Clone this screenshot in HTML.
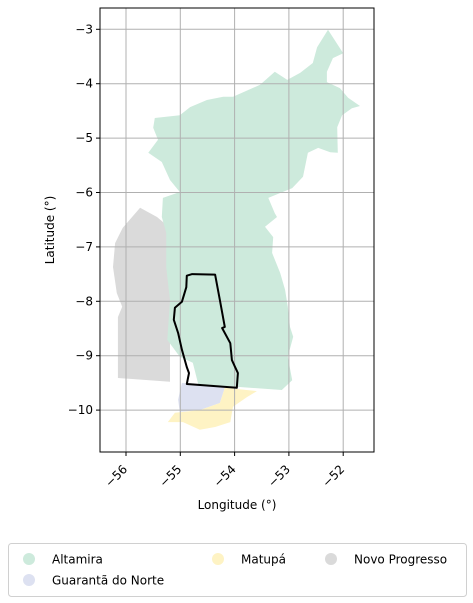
<!DOCTYPE html>
<html><head><meta charset="utf-8"><style>
body{margin:0;background:#fff;font-family:"Liberation Sans","DejaVu Sans",sans-serif;}
svg{display:block}
text{font-family:"DejaVu Sans","Liberation Sans",sans-serif;font-size:12px;fill:#000}
</style></head><body>
<svg id="chart" width="473" height="603"></svg>
<script>
const xTicks=[-56,-55,-54,-53,-52];
const yTicks=[-3,-4,-5,-6,-7,-8,-9,-10];
const altamiraLon=[-52.28,-52.00,-52.19,-52.30,-52.30,-52.06,-51.91,-51.69,-51.84,-52.02,-52.11,-52.10,-52.24,-52.46,-52.65,-52.74,-52.94,-53.16,-53.38,-53.26,-53.22,-53.44,-53.29,-53.31,-53.16,-53.07,-53.02,-52.98,-52.92,-53.02,-52.94,-53.13,-54.67,-54.77,-55.01,-55.24,-55.19,-55.26,-55.26,-55.34,-55.32,-55.01,-55.19,-55.34,-55.59,-55.41,-55.50,-55.47,-55.01,-54.82,-54.51,-54.21,-54.03,-53.53,-53.26,-53.03,-52.79,-52.56,-52.48];
const altamiraLat=[-3.01,-3.44,-3.53,-3.78,-3.97,-4.08,-4.26,-4.41,-4.45,-4.58,-4.80,-5.27,-5.26,-5.18,-5.27,-5.71,-5.92,-6.01,-6.10,-6.38,-6.45,-6.63,-6.82,-7.11,-7.48,-7.79,-8.10,-8.47,-8.65,-9.02,-9.45,-9.63,-9.52,-9.13,-9.02,-8.71,-7.98,-7.37,-6.74,-6.45,-6.10,-5.99,-5.77,-5.44,-5.27,-5.03,-4.81,-4.63,-4.58,-4.43,-4.30,-4.24,-4.24,-4.02,-3.78,-3.93,-3.80,-3.62,-3.33];
const novoLon=[-55.74,-55.43,-55.19,-55.19,-56.15,-56.15,-56.07,-56.17,-56.24,-56.20,-56.06];
const novoLat=[-6.28,-6.45,-6.65,-9.48,-9.41,-8.29,-8.10,-7.85,-7.37,-6.93,-6.65];
const guarantaLon=[-54.97,-54.18,-54.27,-54.64,-55.01,-55.04];
const guarantaLat=[-9.50,-9.59,-9.87,-10.00,-10.03,-9.81];
const matupaLon=[-54.18,-53.59,-53.77,-54.03,-54.08,-54.36,-54.64,-54.95,-55.23,-55.10,-54.64,-54.27];
const matupaLat=[-9.59,-9.65,-9.76,-9.94,-10.22,-10.31,-10.36,-10.22,-10.22,-10.05,-10.00,-9.87];
const aoiLon=[-54.88,-54.78,-54.36,-54.27,-54.18,-54.23,-54.08,-54.05,-53.99,-53.94,-53.96,-54.88,-54.84,-54.88,-54.97,-55.04,-55.12,-55.10,-54.97,-54.89,-54.88];
const aoiLat=[-7.53,-7.50,-7.51,-7.98,-8.47,-8.49,-8.77,-9.08,-9.21,-9.32,-9.59,-9.52,-9.32,-9.21,-8.89,-8.58,-8.34,-8.12,-8.01,-7.74,-7.53];
const legendNames=["Altamira","Guarantã do Norte","Matupá","Novo Progresso"];
const legendColors=["#cdeadc","#dde1f1","#fef3c4","#dadada"];

const L=100,R=374,T=8,B=452;
const X=v=>126+(v+56)*54.3;
const Y=v=>29.3+(-3-v)*54.4;
const NS='http://www.w3.org/2000/svg';
const svg=document.getElementById('chart');
function mk(tag,attrs,parent){const e=document.createElementNS(NS,tag);for(const k in attrs)e.setAttribute(k,attrs[k]);(parent||svg).appendChild(e);return e;}
function poly(lons,lats,fill,stroke,name){
  const pts=lons.map((v,i)=>X(v).toFixed(1)+','+Y(lats[i]).toFixed(1)).join(' ');
  const p=mk('polygon',{points:pts,fill:fill,stroke:stroke||'none','stroke-width':stroke?2:0,'stroke-linejoin':'round'});
  
  
}
poly(novoLon,novoLat,legendColors[3],null,'novo-progresso-region');
poly(guarantaLon,guarantaLat,legendColors[1],null,'guaranta-region');
poly(matupaLon,matupaLat,legendColors[2],null,'matupa-region');
poly(altamiraLon,altamiraLat,legendColors[0],null,'altamira-region');
// grid
xTicks.forEach(t=>{
  const g=mk('line',{x1:X(t),x2:X(t),y1:T,y2:B,stroke:'#b0b0b0','stroke-width':1});
  
  
  mk('line',{x1:X(t),x2:X(t),y1:B,y2:B+4,stroke:'#000'});
  const tx=mk('text',{x:X(t)+2,y:B+18,'text-anchor':'end',transform:`rotate(-45 ${X(t)+2} ${B+18})`});
  tx.textContent='\u2212'+Math.abs(t);
  
  
});
yTicks.forEach(t=>{
  const g=mk('line',{x1:L,x2:R,y1:Y(t),y2:Y(t),stroke:'#b0b0b0','stroke-width':1});
  
  
  mk('line',{x1:L-4,x2:L,y1:Y(t),y2:Y(t),stroke:'#000'});
  const tx=mk('text',{x:L-7,y:Y(t)+4,'text-anchor':'end'});
  tx.textContent='\u2212'+Math.abs(t);
  
  
});
poly(aoiLon,aoiLat,'none','#000','study-area-outline');
const fr=mk('rect',{x:L,y:T,width:R-L,height:B-T,fill:'none',stroke:'#000','stroke-width':1});


const xl=mk('text',{x:237,y:509,'text-anchor':'middle'});xl.textContent='Longitude (°)';


const yl=mk('text',{x:54,y:230,'text-anchor':'middle',transform:'rotate(-90 54 230)'});yl.textContent='Latitude (°)';


// legend
const lg=mk('rect',{x:8.5,y:543.5,width:458,height:53,rx:3,fill:'#fff',stroke:'#d0d0d0'});


const lpos=[[29,559],[29,580],[218,559],[331,559]];
legendNames.forEach((n,i)=>{
  const c=mk('circle',{cx:lpos[i][0],cy:lpos[i][1],r:6,fill:legendColors[i]});
  
  
  const t=mk('text',{x:lpos[i][0]+23,y:lpos[i][1]+4.5});t.textContent=n;
  
  
});
</script>
</body></html>
